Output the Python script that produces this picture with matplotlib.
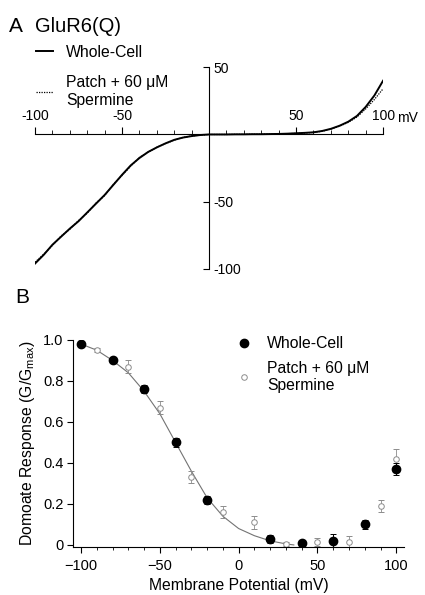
import matplotlib
matplotlib.use('Agg')
import matplotlib.pyplot as plt
from matplotlib.ticker import MultipleLocator
from matplotlib.lines import Line2D

plt.rcParams['font.family'] = ['Liberation Sans', 'DejaVu Sans']
plt.rcParams['mathtext.default'] = 'regular'

# panel A: current-voltage traces
volts = [-100, -95, -90, -85, -80, -75, -70, -65, -60, -55, -50, -45, -40, -35, -30,
         -25, -20, -15, -10, -5, 0, 5, 10, 15, 20, 25, 30, 35, 40, 45, 50,
         55, 60, 65, 70, 75, 80, 85, 90, 95, 100]
whole_cell_i = [-96, -89.5, -82, -76, -70, -64.5, -58, -51.5, -45, -37.5, -30, -23, -17.5, -13, -9.6,
                -6.6, -4, -2.3, -1.2, -0.4, 0, 0, 0, 0.1, 0.1, 0.2, 0.2, 0.3, 0.4, 0.6, 0.9,
                1.2, 1.6, 2.6, 4.2, 6.5, 9.5, 13.8, 20.5, 29, 40]
patch_i = [-95, -89, -82.5, -75.5, -70.5, -64, -58.5, -51, -45.5, -37, -30.5, -23.5, -17, -13.2, -9.5,
           -6.8, -4.2, -2.2, -1.1, -0.5, 0, 0, 0, 0.1, 0.1, 0.2, 0.2, 0.3, 0.4, 0.6, 0.8,
           1.1, 1.5, 2.4, 4.0, 6.2, 9.0, 13.0, 19.0, 26.0, 34.0]

# panel B: normalised conductance
wc_v = [-100, -80, -60, -40, -20, 20, 40, 60, 80, 100]
wc_g = [0.98, 0.90, 0.76, 0.50, 0.22, 0.03, 0.01, 0.02, 0.10, 0.37]
wc_err = [0.01, 0.015, 0.02, 0.02, 0.02, 0.02, 0.01, 0.035, 0.02, 0.03]

patch_v = [-90, -70, -50, -30, -10, 10, 30, 50, 70, 90, 100]
patch_g = [0.95, 0.87, 0.67, 0.33, 0.16, 0.11, 0.005, 0.015, 0.015, 0.19, 0.42]
patch_err = [0.01, 0.03, 0.03, 0.03, 0.03, 0.03, 0.01, 0.02, 0.03, 0.03, 0.05]

fit_v = [-100, -90, -80, -70, -60, -50, -40, -30, -20, -10, 0, 10, 20, 30, 35]
fit_g = [0.98, 0.95, 0.90, 0.84, 0.75, 0.64, 0.50, 0.36, 0.23, 0.14, 0.08, 0.045, 0.02, 0.005, 0.0]

fig = plt.figure(figsize=(4.25, 5.95), dpi=100)

# ---- A ----
ax1 = fig.add_axes([0.0824, 0.548, 0.819, 0.339])
ax1.plot(volts, whole_cell_i, color='black', lw=1.4, label='Whole-Cell')
ax1.plot(volts, patch_i, color='black', lw=0.9, ls=(0, (1, 1)), label='Patch + 60 \u03bcM\nSpermine')
ax1.set_xlim(-100, 100)
ax1.set_ylim(-100, 50)
ax1.spines['left'].set_visible(False)
ax1.spines['bottom'].set_visible(False)
ax1.spines['top'].set_position(('data', 0))
ax1.spines['right'].set_position(('data', 0))
ax1.xaxis.set_ticks_position('top')
ax1.set_xticks([-100, -50, 50, 100])
ax1.set_xticklabels(['-100', '-50', '50', '100'])
ax1.xaxis.set_minor_locator(MultipleLocator(10))
ax1.tick_params(axis='x', which='major', direction='out', length=5, labelsize=10, pad=3)
ax1.tick_params(axis='x', which='minor', direction='out', length=3)
ax1.yaxis.set_ticks_position('right')
ax1.set_yticks([-100, -50, 50])
ax1.set_yticklabels(['-100', '-50', '50'])
ax1.tick_params(axis='y', direction='in', length=4, labelsize=10, pad=3)
ax1.annotate('mV', xy=(100, 0), xytext=(10, 7), textcoords='offset points',
             fontsize=10, va='bottom', ha='left')
ax1.legend(loc='upper left', bbox_to_anchor=(0.085, 0.925), bbox_transform=fig.transFigure,
           frameon=False, fontsize=11.3, handlelength=1.1, handletextpad=0.8,
           labelspacing=1.0, borderpad=0, borderaxespad=0)
fig.text(0.02, 0.955, 'A', fontsize=15, va='center')
fig.text(0.082, 0.955, 'GluR6(Q)', fontsize=14.5, va='center')

# ---- B ----
ax2 = fig.add_axes([0.172, 0.0807, 0.779, 0.348])
ax2.plot(fit_v, fit_g, color='0.45', lw=0.8, zorder=1)
ax2.errorbar(patch_v, patch_g, yerr=patch_err, fmt='o', ms=4, mfc='white', mec='0.55',
             mew=0.7, ecolor='0.55', elinewidth=0.6, capsize=2, capthick=0.6, zorder=2)
ax2.errorbar(wc_v, wc_g, yerr=wc_err, fmt='o', ms=6, color='black', ecolor='black',
             elinewidth=0.7, capsize=2, capthick=0.7, zorder=3)
ax2.set_xlim(-105, 105)
ax2.set_ylim(-0.01, 1.0)
ax2.spines['top'].set_visible(False)
ax2.spines['right'].set_visible(False)
ax2.set_xticks([-100, -50, 0, 50, 100])
ax2.xaxis.set_minor_locator(MultipleLocator(10))
ax2.set_yticks([0, 0.2, 0.4, 0.6, 0.8, 1.0])
ax2.set_yticklabels(['0', '0.2', '0.4', '0.6', '0.8', '1.0'])
ax2.tick_params(axis='both', which='major', direction='out', length=4, labelsize=10.5, pad=3)
ax2.tick_params(axis='x', which='major', pad=5)
ax2.tick_params(axis='x', which='minor', direction='out', length=2.5)
ax2.set_xlabel('Membrane Potential (mV)', fontsize=11.3, labelpad=3)
ax2.set_ylabel('Domoate Response (G/G$_{max}$)', fontsize=11.3, labelpad=4)
handles = [Line2D([], [], ls='none', marker='o', ms=6, color='black'),
           Line2D([], [], ls='none', marker='o', ms=4, mfc='white', mec='0.55', mew=0.7)]
labels = ['Whole-Cell', 'Patch + 60 \u03bcM\nSpermine']
ax2.legend(handles, labels, loc='upper left', bbox_to_anchor=(0.555, 0.435),
           bbox_transform=fig.transFigure, frameon=False, fontsize=11.3,
           handlelength=1.0, handletextpad=1.0, labelspacing=0.6, borderpad=0, borderaxespad=0)
fig.text(0.035, 0.5, 'B', fontsize=15, va='center')

fig.savefig('out.png', dpi=100)
